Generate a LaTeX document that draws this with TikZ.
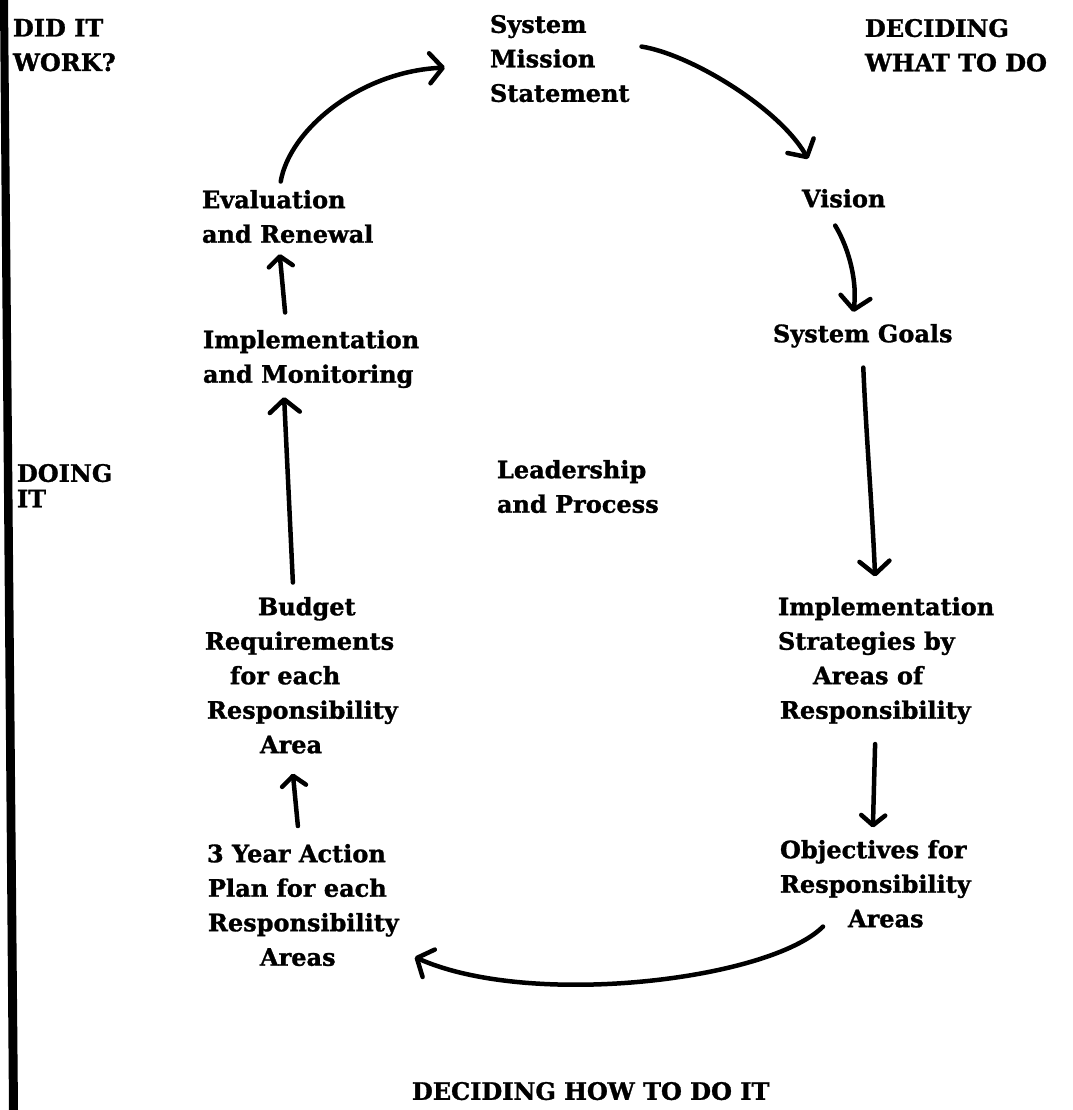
\documentclass[tikz,border=0pt]{standalone}
\usepackage{fontspec}
\setmainfont[BoldFeatures={FakeBold=1.2}]{DejaVu Serif}
\usetikzlibrary{arrows.meta,calc}

\begin{document}
\begin{tikzpicture}[x=1pt,y=-1pt,
  lbl/.style={inner sep=0pt, outer sep=0pt, anchor=north west, align=left,
              font=\bfseries\fontsize{24}{34.5}\selectfont},
  arr/.style={line width=4.5pt, line cap=round,
              -{Straight Barb[length=13pt,width=30pt,round]}},
  arrs/.style={arr, -{Straight Barb[length=10pt,width=24pt,round]}}]

% page and left margin bar
\path[fill=white] (0,0) rectangle (1072,1110);
\fill[black] (0,0) -- (8,0) -- (18,1110) -- (9,1110) -- cycle;

% corner and side captions
\node[lbl] (didit)   at (13,19)    {DID IT\\WORK?};
\node[lbl] (whatdo)  at (865,19)   {DECIDING\\WHAT TO DO};
\node[lbl] (doing)   at (17,464)   {DOING\\[-9pt]IT};
\node[lbl] (howto)   at (412,1082) {DECIDING HOW TO DO IT};
\node[lbl] (leader)  at (497,460)  {Leadership\\and Process};

% steps of the cycle
\node[lbl] (mission) at (490,15)    {System\\Mission\\Statement};
\node[lbl] (vision)  at (802,189)   {Vision};
\node[lbl] (goals)   at (773,324)   {System Goals};
\node[lbl] (strat)   at (778,597)   {Implementation\\Strategies by\\\hspace*{35pt}Areas of\\\hspace*{2pt}Responsibility};
\node[lbl] (obj)     at (780,840)   {Objectives for\\Responsibility\\\hspace*{68pt}Areas};
\node[lbl] (action)  at (207,844)   {3 Year Action\\\hspace*{1pt}Plan for each\\\hspace*{1pt}Responsibility\\\hspace*{53pt}Areas};
\node[lbl] (budget)  at (205,597)   {\hspace*{53pt}Budget\\Requirements\\\hspace*{25pt}for each\\\hspace*{2pt}Responsibility\\\hspace*{55pt}Area};
\node[lbl] (implmon) at (203,330)   {Implementation\\and Monitoring};
\node[lbl] (eval)    at (202,190)   {Evaluation\\and Renewal};

% connectors around the cycle
\draw[arr] ($(eval.north)+(-7,-8.5)$) .. controls +(9,-52) and +(-85,4) .. ($(mission.west)+(-45,9)$);
\draw[arr] ($(mission.east)+(12,-12)$) .. controls +(50,8) and +(-28,-50) .. ($(vision.north west)+(6,-30)$);
\draw[arr] ($(vision.south)+(-8.5,18)$) .. controls +(15,25) and +(4,-28) .. ($(goals.north)+(-9.5,-12)$);
\draw[arr] ($(goals.south)+(0.5,20)$) .. controls +(3,70) and +(-3,-70) .. ($(strat.north)+(-11,-20.5)$);
\draw[arrs] ($(strat.south)+(-11,20)$) -- ($(obj.north)+(-2.5,-12.5)$);
\draw[arr] ($(obj.south west)+(43,-1)$) .. controls +(-53,53) and +(117,52) .. ($(action.south east)+(16,-9)$);
\draw[arrs] ($(action.north)+(-5,-18)$) -- ($(budget.south)+(-8.5,20)$);
\draw[arr] ($(budget.north)+(-8.5,-14.5)$) -- ($(implmon.south)+(-27,9)$);
\draw[arrs] ($(implmon.north)+(-26,-17.5)$) -- ($(eval.south)+(-8,11)$);
\end{tikzpicture}
\end{document}
